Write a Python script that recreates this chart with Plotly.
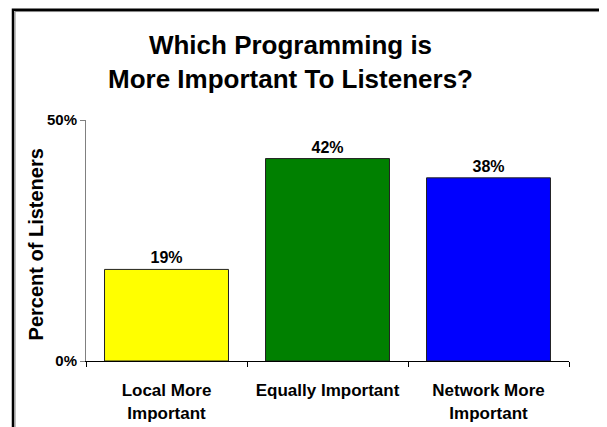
import plotly.graph_objects as go

categories = ["Local More<br>Important", "Equally Important", "Network More<br>Important"]
values = [19, 42, 38]
bar_colors = ["#FFFF00", "#008000", "#0000FF"]
y_tick_vals = [0, 50]
y_tick_text = ["0%", "50%"]
title_text = "Which Programming is<br>More Important To Listeners?"
y_title = "Percent of Listeners"

FONT = "Arial, Liberation Sans, sans-serif"

# page body has an 8px margin; work in window pixel coordinates
OFF = 8
W, H = 607, 427
L, R, T, B = 86 - OFF, 38 + OFF, 120 - OFF, 63 + OFF
pw, ph = W - L - R, H - T - B

def px_x(x):
    return (x - OFF - L) / pw

def px_y(y):
    return (H - B - (y - OFF)) / ph

fig = go.Figure(go.Bar(
    x=categories,
    y=values,
    width=0.77,
    marker=dict(color=bar_colors, line=dict(color="#222222", width=1)),
    texttemplate="%{y}%",
    textposition="outside",
    textfont=dict(family=FONT, size=16, color="black", weight="bold"),
    cliponaxis=False,
))

fig.update_layout(
    width=W, height=H,
    margin=dict(l=L, r=R, t=T, b=B),
    paper_bgcolor="white",
    plot_bgcolor="white",
    showlegend=False,
    font=dict(family=FONT, color="black"),
    xaxis=dict(
        showline=True, linecolor="black", linewidth=1,
        ticks="outside", ticklen=5, tickcolor="black", tickson="boundaries",
        ticklabelstandoff=14,
        tickfont=dict(family=FONT, size=17, color="black", weight="bold"),
        showgrid=False, zeroline=False,
    ),
    yaxis=dict(
        range=[0, 50],
        tickvals=y_tick_vals, ticktext=y_tick_text,
        showline=True, linecolor="#808080", linewidth=1,
        ticks="outside", ticklen=5, tickcolor="#808080",
        tickfont=dict(family=FONT, size=15, color="black", weight="bold"),
        showgrid=False, zeroline=False,
    ),
    annotations=[
        dict(text="<b>" + title_text + "</b>", xref="paper", yref="paper",
             x=px_x(290), y=px_y(61), xanchor="center", yanchor="middle",
             showarrow=False, font=dict(family=FONT, size=26, color="black")),
        dict(text="<b>" + y_title + "</b>", xref="paper", yref="paper",
             x=px_x(36), y=px_y(246), xanchor="center", yanchor="middle",
             textangle=-90, showarrow=False,
             font=dict(family=FONT, size=20, color="black")),
    ],
    shapes=[
        dict(type="path", xref="paper", yref="paper",
             path=f"M {px_x(13)} {px_y(440)} L {px_x(13)} {px_y(8.3)} L {px_x(620)} {px_y(8.3)}",
             line=dict(color="black", width=2.5)),
        dict(type="path", xref="paper", yref="paper",
             path=f"M {px_x(15)} {px_y(440)} L {px_x(15)} {px_y(10.2)} L {px_x(620)} {px_y(10.2)}",
             line=dict(color="#808080", width=1)),
    ],
)

fig.write_html("out.html")
